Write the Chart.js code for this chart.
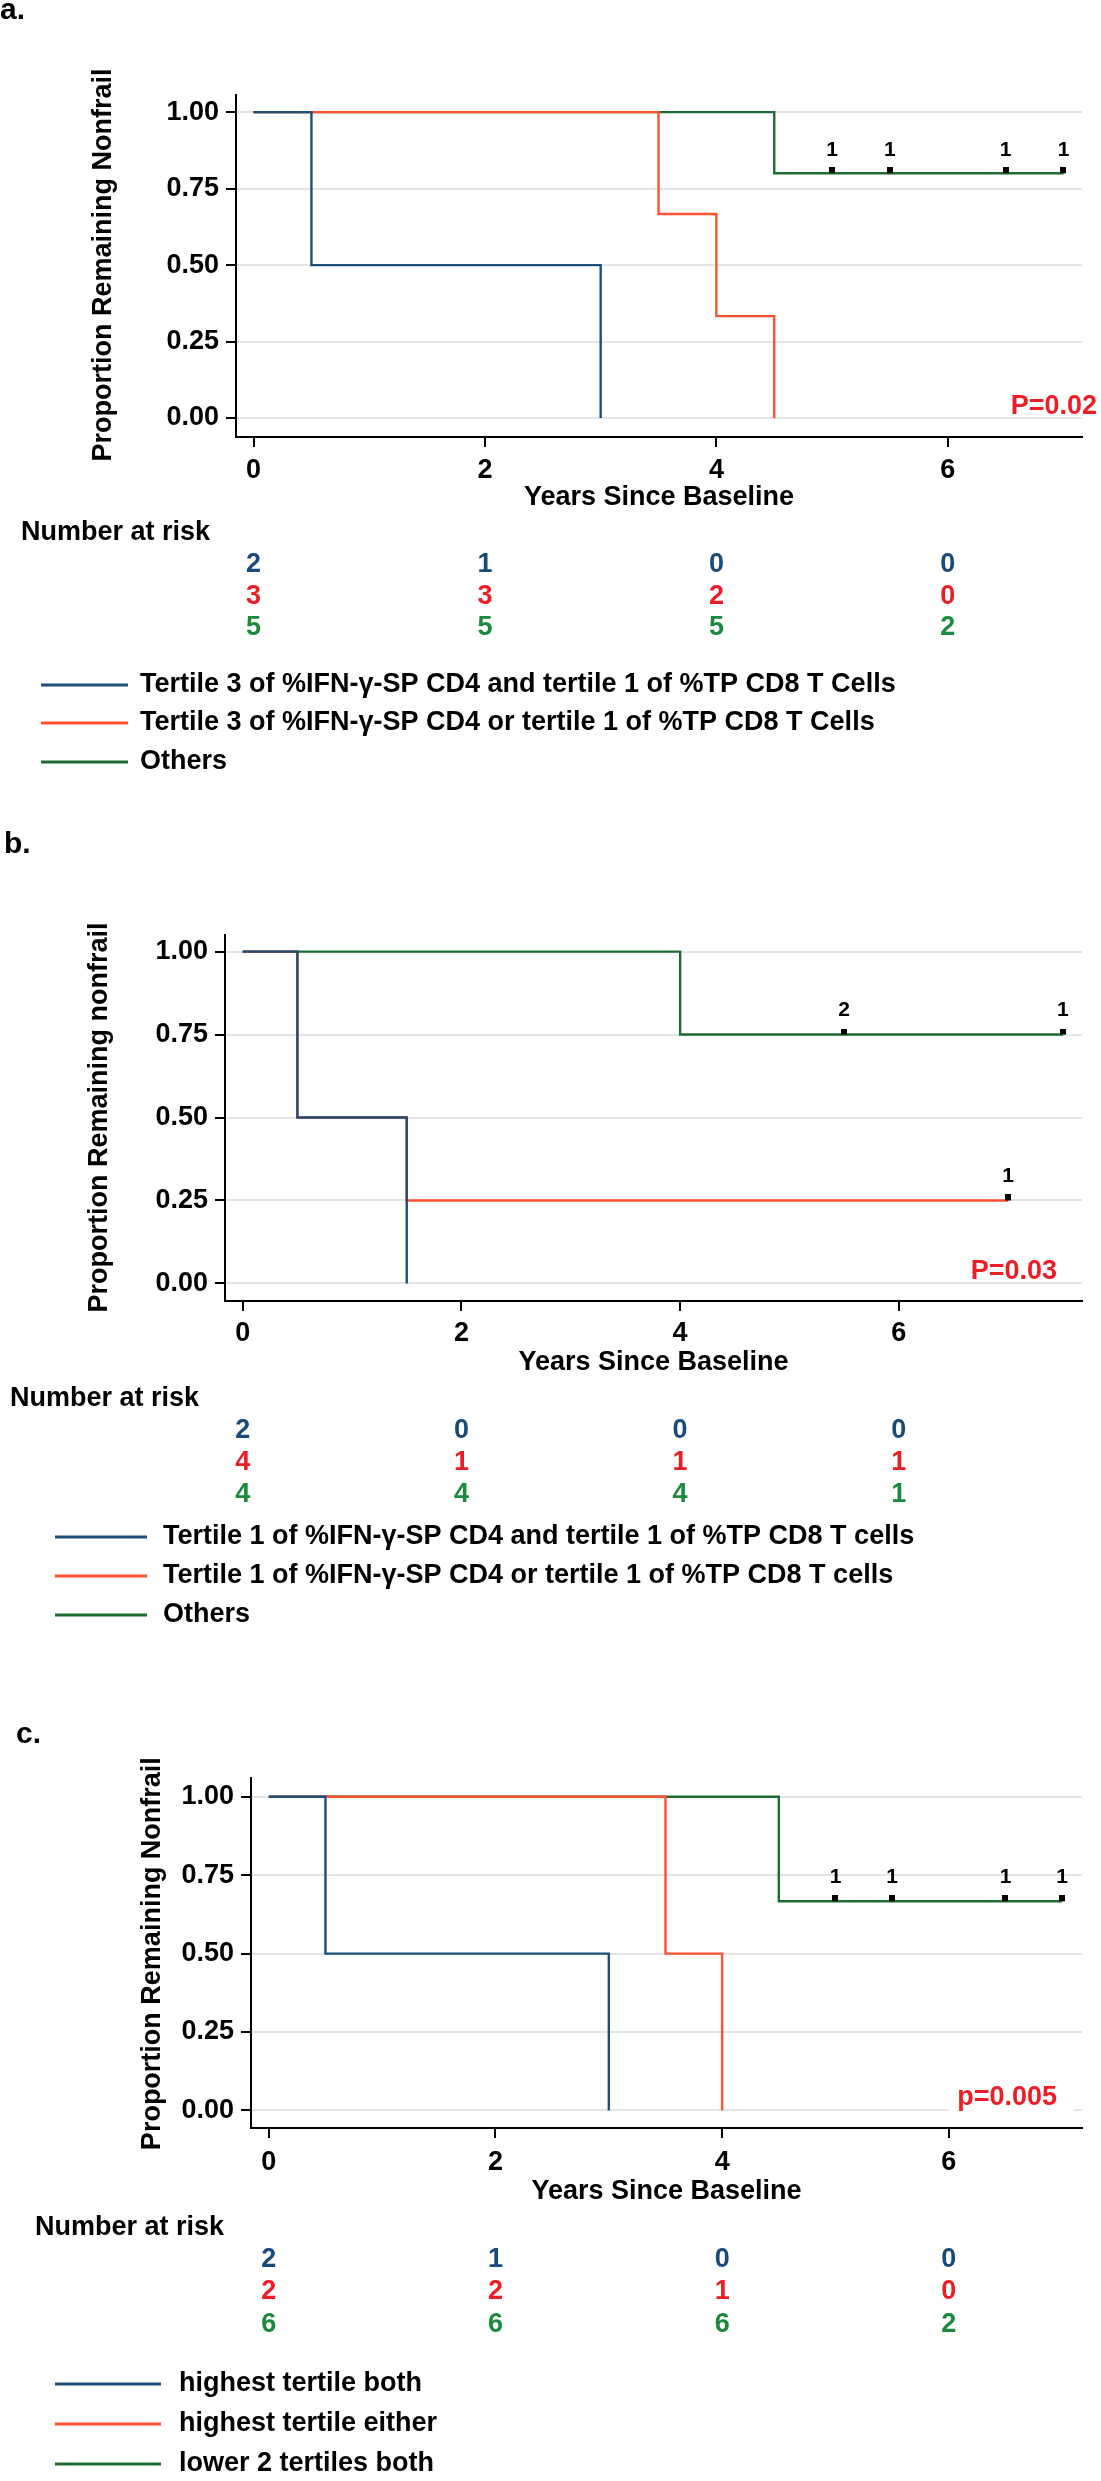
<!DOCTYPE html>
<html>
<head>
<meta charset="utf-8">
<script src="https://cdn.jsdelivr.net/npm/chart.js@4.4.1/dist/chart.umd.min.js"></script>
<style>
html, body { margin: 0; padding: 0; background: #fff; }
body { width: 1101px; height: 2481px; position: relative; overflow: hidden; }
canvas { position: absolute; left: 0; }
</style>
</head>
<body>
<canvas id="pa" width="1101" height="800" style="top:0px;width:1101px;height:800px"></canvas>
<canvas id="pb" width="1101" height="860" style="top:800px;width:1101px;height:860px"></canvas>
<canvas id="pc" width="1101" height="821" style="top:1660px;width:1101px;height:821px"></canvas>
<script>
const FONT = '"Liberation Sans", Arial, sans-serif';
const BLUE = '#1f4e79', RED = '#ff5030', GREEN = '#1c6b30';
const NBLUE = '#1a4a7a', NRED = '#ee1c25', NGREEN = '#1b8a3c';

const yTicks = [0, 0.25, 0.5, 0.75, 1];
const xTicks = [0, 2, 4, 6];
const riskTimes = [0, 2, 4, 6];

// panel a
const aBlueT = [0, 0.5, 3], aBlueS = [1, 0.5, 0];
const aRedT = [0, 3.5, 4, 4.5], aRedS = [1, 0.667, 0.333, 0];
const aGreenT = [0, 4.5, 7], aGreenS = [1, 0.8, 0.8];
const aCensT = [5, 5.5, 6.5, 7], aCensS = [0.8, 0.8, 0.8, 0.8], aCensN = [1, 1, 1, 1];
const aRiskBlue = [2, 1, 0, 0], aRiskRed = [3, 3, 2, 0], aRiskGreen = [5, 5, 5, 2];
const aLegend = ['Tertile 3 of %IFN-γ-SP CD4 and tertile 1 of %TP CD8 T Cells',
                 'Tertile 3 of %IFN-γ-SP CD4 or tertile 1 of %TP CD8 T Cells', 'Others'];

// panel b
const bBlueT = [0, 0.5, 1.5], bBlueS = [1, 0.5, 0];
const bRedT = [0, 0.5, 1.5, 7], bRedS = [1, 0.5, 0.25, 0.25];
const bGreenT = [0, 4, 7.5], bGreenS = [1, 0.75, 0.75];
const bCensT = [5.5, 7.5, 7], bCensS = [0.75, 0.75, 0.25], bCensN = [2, 1, 1];
const bRiskBlue = [2, 0, 0, 0], bRiskRed = [4, 1, 1, 1], bRiskGreen = [4, 4, 4, 1];
const bLegend = ['Tertile 1 of %IFN-γ-SP CD4 and tertile 1 of %TP CD8 T cells',
                 'Tertile 1 of %IFN-γ-SP CD4 or tertile 1 of %TP CD8 T cells', 'Others'];

// panel c
const cBlueT = [0, 0.5, 3], cBlueS = [1, 0.5, 0];
const cRedT = [0, 3.5, 4], cRedS = [1, 0.5, 0];
const cGreenT = [0, 4.5, 7], cGreenS = [1, 0.667, 0.667];
const cCensT = [5, 5.5, 6.5, 7], cCensS = [0.667, 0.667, 0.667, 0.667], cCensN = [1, 1, 1, 1];
const cRiskBlue = [2, 1, 0, 0], cRiskRed = [2, 2, 1, 0], cRiskGreen = [6, 6, 6, 2];
const cLegend = ['highest tertile both', 'highest tertile either', 'lower 2 tertiles both'];

// small black censor tick sitting on top of the line
const tickImg = document.createElement('canvas');
tickImg.width = 6; tickImg.height = 12;
const tctx = tickImg.getContext('2d');
tctx.fillStyle = '#000';
tctx.fillRect(0, 0, 6, 6);

function pts(t, s) { return t.map((v, i) => ({ x: v, y: s[i] })); }

function makePanel(id, d, L) {
  const H = document.getElementById(id).height;
  const extras = {
    id: 'extras' + id,
    afterDraw(chart) {
      const ctx = chart.ctx, xs = chart.scales.x, ys = chart.scales.y, ca = chart.chartArea;
      ctx.save();
      // censor counts
      ctx.font = 'bold 21px ' + FONT;
      ctx.fillStyle = '#000';
      ctx.textAlign = 'center';
      ctx.textBaseline = 'middle';
      chart.getDatasetMeta(3).data.forEach((p, i) => ctx.fillText(String(d.censN[i]), p.x, p.y - L.censDy));

      // panel tag
      ctx.font = 'bold 30px ' + FONT;
      ctx.textAlign = 'left';
      ctx.textBaseline = 'alphabetic';
      ctx.fillText(L.tag, L.tagX, L.tagY);

      ctx.font = 'bold 27px ' + FONT;
      ctx.textBaseline = 'middle';
      // y title
      ctx.save();
      ctx.translate(L.yTitleX, (ys.getPixelForValue(0) + ys.getPixelForValue(1)) / 2);
      ctx.rotate(-Math.PI / 2);
      ctx.textAlign = 'center';
      ctx.fillText(L.yTitle, 0, 0);
      ctx.restore();
      // x title
      ctx.textAlign = 'center';
      ctx.fillText('Years Since Baseline', (ca.left + ca.right) / 2, L.xTitleY);

      // p value
      ctx.textAlign = 'right';
      if (L.pBox) {
        ctx.fillStyle = '#fff';
        ctx.fillRect(L.pBox[0], L.pY - 16, L.pBox[1] - L.pBox[0], 32);
      }
      ctx.fillStyle = NRED;
      ctx.fillText(L.p, L.pRight, L.pY);

      // number at risk
      ctx.fillStyle = '#000';
      ctx.textAlign = 'left';
      ctx.fillText('Number at risk', L.riskX, L.riskY);
      const rows = [d.riskBlue, d.riskRed, d.riskGreen];
      const rowCol = [NBLUE, NRED, NGREEN];
      ctx.textAlign = 'center';
      rows.forEach((r, i) => {
        ctx.fillStyle = rowCol[i];
        r.forEach((n, j) => ctx.fillText(String(n), xs.getPixelForValue(riskTimes[j]), L.rowY[i]));
      });

      // legend
      const legCol = [BLUE, RED, GREEN];
      d.legend.forEach((txt, i) => {
        ctx.strokeStyle = legCol[i];
        ctx.lineWidth = 3;
        ctx.beginPath();
        ctx.moveTo(L.legLine[0], L.legY[i]);
        ctx.lineTo(L.legLine[1], L.legY[i]);
        ctx.stroke();
        ctx.fillStyle = '#000';
        ctx.textAlign = 'left';
        ctx.fillText(txt, L.legTextX, L.legY[i]);
      });
      ctx.restore();
    }
  };

  const line = (t, s, c) => ({
    data: pts(t, s), borderColor: c, borderWidth: 2.4, stepped: true,
    pointRadius: 0, fill: false, order: 0
  });

  return new Chart(document.getElementById(id), {
    type: 'line',
    data: {
      datasets: [
        line(d.blueT, d.blueS, BLUE),
        line(d.redT, d.redS, RED),
        line(d.greenT, d.greenS, GREEN),
        { data: pts(d.censT, d.censS), showLine: false, pointStyle: tickImg,
          pointRadius: 3, order: -1 }
      ]
    },
    options: {
      responsive: false,
      animation: false,
      devicePixelRatio: 1,
      events: [],
      layout: { autoPadding: false, padding: { left: 0, right: 1101 - L.R, top: L.T, bottom: H - L.B - 60 } },
      plugins: { legend: { display: false }, tooltip: { enabled: false } },
      scales: {
        x: {
          type: 'linear', min: L.xmin, max: L.xmax,
          afterBuildTicks: s => { s.ticks = xTicks.map(v => ({ value: v })); },
          afterFit: s => { s.height = 60; },
          border: { display: true, color: '#000', width: 2 },
          grid: { drawOnChartArea: false, drawTicks: true, tickLength: 10, tickColor: '#000', lineWidth: 2 },
          ticks: { color: '#000', font: { family: FONT, size: 27, weight: 'bold' }, padding: L.xPad,
                   maxRotation: 0, autoSkip: false, callback: v => String(v) }
        },
        y: {
          type: 'linear', min: L.ymin, max: L.ymax,
          afterBuildTicks: s => { s.ticks = yTicks.map(v => ({ value: v })); },
          afterFit: s => { s.width = L.L; },
          border: { display: true, color: '#000', width: 2 },
          grid: { color: '#e4e4e4', lineWidth: 2, drawTicks: true, tickLength: 10, tickColor: '#000' },
          ticks: { color: '#000', font: { family: FONT, size: 27, weight: 'bold' }, padding: 7,
                   autoSkip: false, callback: v => Number(v).toFixed(2) }
        }
      }
    },
    plugins: [extras]
  });
}

makePanel('pa', {
  blueT: aBlueT, blueS: aBlueS, redT: aRedT, redS: aRedS, greenT: aGreenT, greenS: aGreenS,
  censT: aCensT, censS: aCensS, censN: aCensN,
  riskBlue: aRiskBlue, riskRed: aRiskRed, riskGreen: aRiskGreen, legend: aLegend
}, {
  tag: 'a.', tagX: 0, tagY: 19, yTitle: 'Proportion Remaining Nonfrail', yTitleX: 104,
  L: 236, R: 1082, T: 95, B: 437, xmin: -0.152, xmax: 7.16, ymin: -0.062, ymax: 1.056, xPad: 7,
  xTitleY: 498, p: 'P=0.02', pRight: 1097, pY: 407, pBox: null,
  riskX: 21, riskY: 533, rowY: [565, 597, 628],
  legLine: [41, 128], legTextX: 140, legY: [685, 723, 762], censDy: 23
});

makePanel('pb', {
  blueT: bBlueT, blueS: bBlueS, redT: bRedT, redS: bRedS, greenT: bGreenT, greenS: bGreenS,
  censT: bCensT, censS: bCensS, censN: bCensN,
  riskBlue: bRiskBlue, riskRed: bRiskRed, riskGreen: bRiskGreen, legend: bLegend
}, {
  tag: 'b.', tagX: 4, tagY: 53, yTitle: 'Proportion Remaining nonfrail', yTitleX: 100,
  L: 225, R: 1082, T: 135, B: 501, xmin: -0.162, xmax: 7.675, ymin: -0.053, ymax: 1.05, xPad: 6,
  xTitleY: 563, p: 'P=0.03', pRight: 1057, pY: 472, pBox: null,
  riskX: 10, riskY: 599, rowY: [631, 663, 695],
  legLine: [55, 147], legTextX: 163, legY: [737, 776, 815], censDy: 24
});

makePanel('pc', {
  blueT: cBlueT, blueS: cBlueS, redT: cRedT, redS: cRedS, greenT: cGreenT, greenS: cGreenS,
  censT: cCensT, censS: cCensS, censN: cCensN,
  riskBlue: cRiskBlue, riskRed: cRiskRed, riskGreen: cRiskGreen, legend: cLegend
}, {
  tag: 'c.', tagX: 16, tagY: 83, yTitle: 'Proportion Remaining Nonfrail', yTitleX: 153,
  L: 251, R: 1082, T: 118, B: 468, xmin: -0.157, xmax: 7.175, ymin: -0.056, ymax: 1.06, xPad: 8,
  xTitleY: 532, p: 'p=0.005', pRight: 1057, pY: 438, pBox: [948, 1074],
  riskX: 35, riskY: 568, rowY: [600, 632, 665],
  legLine: [55, 161], legTextX: 179, legY: [724, 764, 804], censDy: 24
});
</script>
</body>
</html>
